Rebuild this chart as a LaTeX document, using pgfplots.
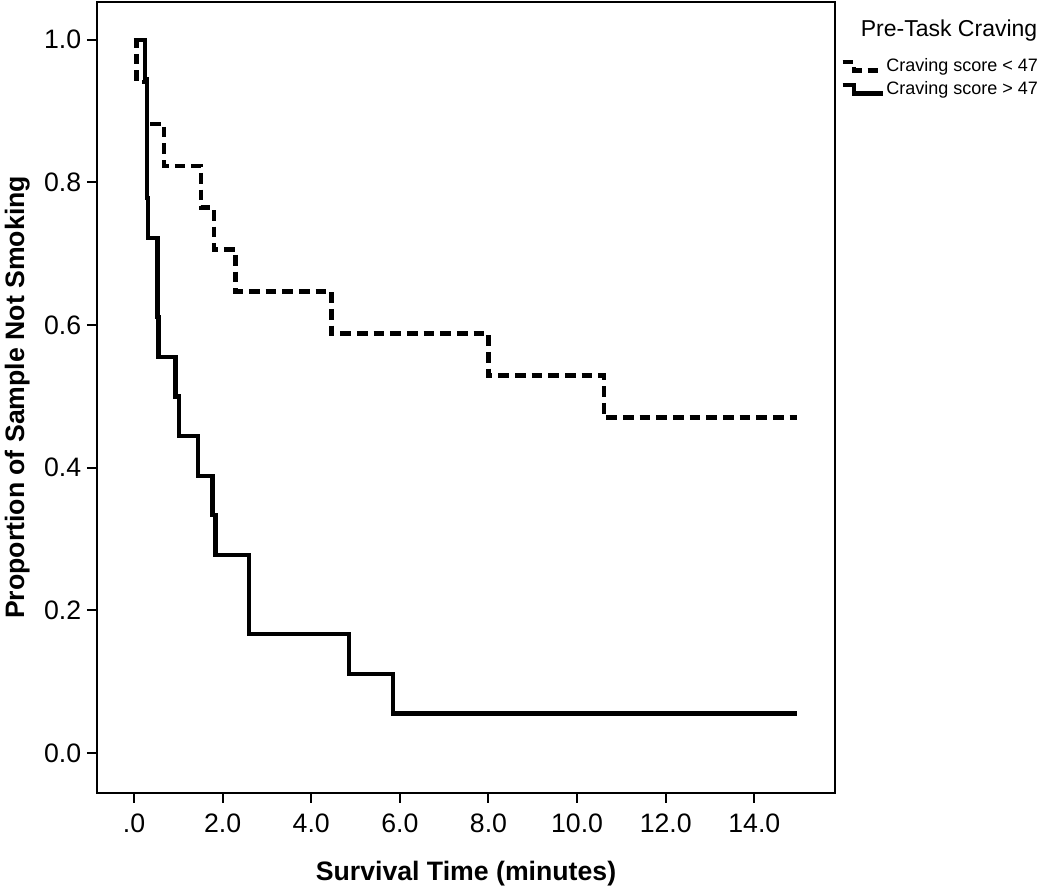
\documentclass[border=0pt]{standalone}
\usepackage{pgfplots}
\pgfplotsset{compat=1.18}
\usepackage{fontspec}
\setmainfont{Liberation Sans}
\begin{document}
\begin{tikzpicture}
\path[use as bounding box] (-58.2pt,-59.4pt) rectangle (571.8pt,475.8pt);
\begin{axis}[
  at={(0,0)}, anchor=south west,
  width=442.8pt, height=474.6pt, scale only axis,
  xmin=-0.835, xmax=15.82, ymin=-0.056, ymax=1.053,
  axis line style={line width=1.2pt},
  every tick/.style={black, line width=1.2pt},
  tick align=outside, major tick length=6pt,
  xtick={0,2,4,6,8,10,12,14},
  xticklabels={.0,2.0,4.0,6.0,8.0,10.0,12.0,14.0},
  ytick={0,0.2,0.4,0.6,0.8,1.0},
  yticklabels={0.0,0.2,0.4,0.6,0.8,1.0},
  xtick pos=bottom, ytick pos=left,
  tick label style={font=\fontsize{16}{19}\selectfont},
  xticklabel style={yshift=-3pt},
  every axis x label/.style={at={(axis description cs:0.5,-0.110)}, anchor=base},
  every axis y label/.style={at={(axis description cs:-0.0989,0.5)}, anchor=base, rotate=90},
  xlabel={\fontsize{16}{19}\selectfont\bfseries Survival Time (minutes)},
  ylabel={\fontsize{16}{19}\selectfont\bfseries Proportion of Sample Not Smoking},
  legend style={at={(axis description cs:1.0068,0.9336)}, anchor=north west,
    draw=none, fill=none, inner sep=0pt,
    font=\fontsize{10.8}{13}\selectfont,
    nodes={inner xsep=1pt, inner ysep=1.9pt, text height=8pt, text depth=2pt},
    row sep=0pt, column sep=0pt},
  legend cell align=left,
  legend image code/.code={\draw[#1] (0pt,2.5pt) -- (7pt,2.5pt) -- (7pt,-2.5pt) -- (24pt,-2.5pt);},
]
\addplot[const plot, black, line width=2.6pt, dash pattern=on 6.4pt off 3.6pt] coordinates {
(0,1.0) (0.06,0.9412) (0.29,0.8824) (0.67,0.8235) (1.51,0.7647) (1.80,0.7059)
(2.29,0.6471) (4.46,0.5882) (8.00,0.5294) (10.61,0.4706) (14.97,0.4706)};
\addlegendentry{Craving score < 47}
\addplot[const plot, black, line width=2.6pt] coordinates {
(0,1.0) (0.25,0.9444) (0.29,0.7778) (0.31,0.7222) (0.53,0.6111) (0.55,0.5556)
(0.94,0.5) (1.02,0.4444) (1.44,0.3889) (1.77,0.3333) (1.84,0.2778) (2.60,0.1667)
(4.85,0.1111) (5.85,0.0556) (14.97,0.0556)};
\addlegendentry{Craving score > 47}
\end{axis}
\node[anchor=base west, font=\fontsize{13.8}{16}\selectfont] at (454.8pt,453.6pt) {Pre-Task Craving};
\end{tikzpicture}
\end{document}
